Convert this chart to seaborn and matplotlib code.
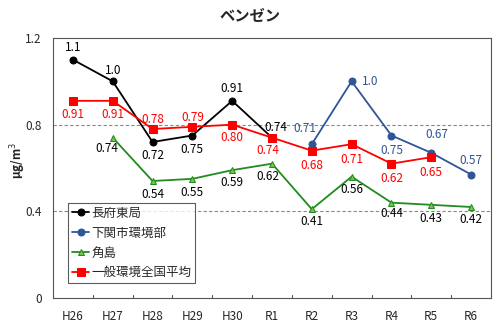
import numpy as np
import pandas as pd
import matplotlib
matplotlib.use("Agg")
import matplotlib.pyplot as plt
import seaborn as sns

categories = ["H26", "H27", "H28", "H29", "H30", "R1", "R2", "R3", "R4", "R5", "R6"]
chofu = [1.1, 1.0, 0.72, 0.75, 0.91, 0.74, None, None, None, None, None]
shimonoseki = [None, None, None, None, None, None, 0.71, 1.0, 0.75, 0.67, 0.57]
tsunoshima = [None, 0.74, 0.54, 0.55, 0.59, 0.62, 0.41, 0.56, 0.44, 0.43, 0.42]
national = [0.91, 0.91, 0.78, 0.79, 0.80, 0.74, 0.68, 0.71, 0.62, 0.65, None]
chofu_lbl = ["1.1", "1.0", "0.72", "0.75", "0.91", "0.74"]
shimo_lbl = ["0.71", "1.0", "0.75", "0.67", "0.57"]
tsuno_lbl = ["0.74", "0.54", "0.55", "0.59", "0.62", "0.41", "0.56", "0.44", "0.43", "0.42"]
nat_lbl = ["0.91", "0.91", "0.78", "0.79", "0.80", "0.74", "0.68", "0.71", "0.62", "0.65"]
names = ["長府東局", "下関市環境部", "角島", "一般環境全国平均"]

sns.set_theme(style="white")
plt.rcParams['font.family'] = ['Noto Sans CJK JP', 'DejaVu Sans']

series = [chofu, shimonoseki, tsunoshima, national]
colors = ["#000000", "#2F5597", "#1E8C1E", "#FF0000"]
markers = ["o", "o", "^", "s"]
msizes = [5, 5, 4.5, 5.5]
mfcs = ["#000000", "#2F5597", "#7CC24E", "#FF0000"]

rows = []
for n, s in zip(names, series):
    for i, v in enumerate(s):
        if v is not None:
            rows.append({"x": i, "y": v, "series": n})
df = pd.DataFrame(rows)

fig = plt.figure(figsize=(4.99, 3.26), dpi=100)
ax = fig.add_axes([53/499, 1 - 298/326, (491-53)/499, (298-38)/326])

for n, c, m, ms, mfc in zip(names, colors, markers, msizes, mfcs):
    sub = df[df["series"] == n]
    sns.lineplot(data=sub, x="x", y="y", ax=ax, color=c, marker=m, markersize=ms,
                 markerfacecolor=mfc, markeredgecolor=c, linewidth=1.3, label=n, legend=False)

FS = 8.5

def put(vals, lbls, offs, color):
    idx = [i for i, v in enumerate(vals) if v is not None]
    for k, (i, l) in enumerate(zip(idx, lbls)):
        dx, dy = offs[k]
        ax.annotate(l, (i, vals[i]), xytext=(dx, dy), textcoords="offset points",
                    ha="center", va="center", color=color, fontsize=FS)

put(chofu, chofu_lbl, [(0, 9), (0, 8), (0, -10), (0, -10), (0, 9), (3, 7)], "#000000")
put(shimonoseki, shimo_lbl, [(-5, 11), (13, 0), (0, -11), (4, 13), (0, 10)], "#2F5597")
put(tsunoshima, tsuno_lbl, [(-4, -8), (0, -10), (0, -10), (0, -9), (-3, -9),
                            (0, -9), (0, -9), (0, -8), (0, -10), (0, -9)], "#000000")
put(national, nat_lbl, [(0, -10), (0, -10), (0, 7), (0, 7), (0, -9), (-3, -9),
                        (0, -11), (0, -11), (0, -11), (0, -11)], "#FF0000")

ax.set_xlim(-0.5, len(categories) - 0.5)
ax.set_ylim(0, 1.2)
ax.set_yticks([0, 0.4, 0.8, 1.2])
ax.set_yticklabels(["0", "0.4", "0.8", "1.2"], fontsize=FS)
ax.set_xticks(range(len(categories)))
ax.set_xticklabels(categories, fontsize=FS)
ax.tick_params(axis="x", length=0, pad=9)
ax.tick_params(axis="y", length=0, pad=8)
for b in np.arange(0.5, len(categories) - 0.5, 1):
    ax.plot([b, b], [0, 0.013], color="#555555", lw=0.8, clip_on=False)
for yv in [0.4, 0.8]:
    ax.axhline(yv, color="#888888", ls=(0, (3, 2)), lw=0.8, zorder=0)
for sp in ax.spines.values():
    sp.set_color("#555555")
    sp.set_linewidth(0.8)
ax.set_xlabel("")
ax.set_ylabel("")
fig.text(18/499, 1 - 160/326, "μg/m$^3$", rotation=90, ha="center", va="center",
         fontsize=8.5, fontweight="bold")

fig.text(0.5, 1 - 16/326, "ベンゼン", ha="center", va="center", fontsize=11, fontweight="bold")

leg = ax.legend(loc="upper left", bbox_to_anchor=(15/438, 1 - (203-38)/260), fontsize=FS + 0.5,
                frameon=True, fancybox=False, edgecolor="#333333", handlelength=1.4,
                handletextpad=0.15, borderpad=0.3, labelspacing=0.55, borderaxespad=0)
leg.get_frame().set_linewidth(0.8)

fig.savefig("out.png", dpi=100)
